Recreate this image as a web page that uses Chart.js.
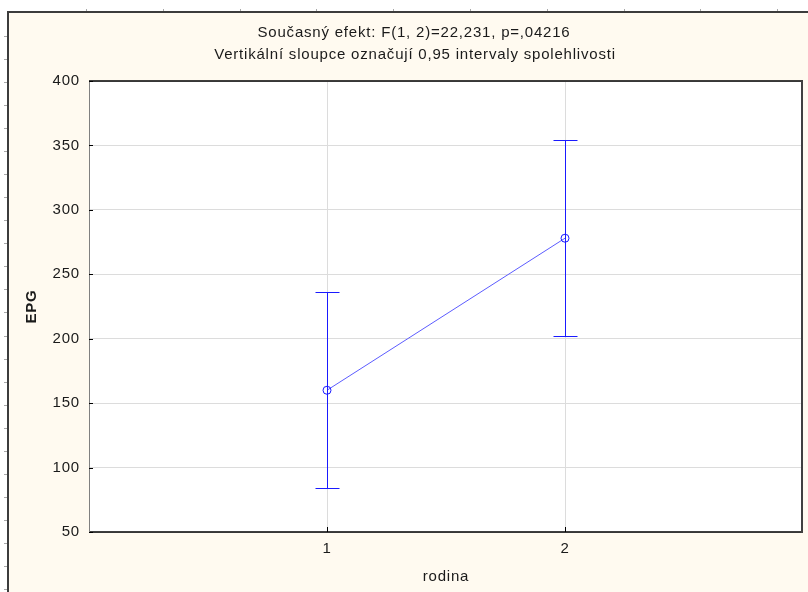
<!DOCTYPE html>
<html>
<head>
<meta charset="utf-8">
<script src="https://cdn.jsdelivr.net/npm/chart.js@4.4.1/dist/chart.umd.min.js"></script>
<style>
  html, body { margin: 0; padding: 0; background: #ffffff; overflow: hidden; }
  #wrap { width: 808px; height: 592px; position: relative; }
  canvas { display: block; }
</style>
</head>
<body>
<div id="wrap"><canvas id="chart" width="808" height="592"></canvas></div>
<script>
// data
const categories = [1, 2];
const means = [160, 278];
const upper = [236, 354];
const lower = [84, 202];
const yTicks = [50, 100, 150, 200, 250, 300, 350, 400];
const titleLines = ['Současný efekt: F(1, 2)=22,231, p=,04216', 'Vertikální sloupce označují 0,95 intervaly spolehlivosti'];
const xTitle = 'rodina';
const yTitle = 'EPG';

const FONT = '"Liberation Sans", Arial, sans-serif';
const CREAM = '#fffaf0';
const SPACING = '0.8px';

// panel, ruler marks, white plot area
const backdrop = {
    id: 'backdrop',
    beforeDraw(chart) {
        const { ctx, chartArea: a, width, height } = chart;
        ctx.save();
        ctx.fillStyle = '#ffffff';
        ctx.fillRect(0, 0, width, height);
        ctx.fillStyle = CREAM;
        ctx.fillRect(8, 12, width - 8, height - 12);
        // ruler ticks
        ctx.strokeStyle = '#a8a8a8';
        ctx.lineWidth = 1;
        ctx.beginPath();
        for (let x = 86; x < width; x += 76.8) {
            ctx.moveTo(Math.round(x) + 0.5, 9);
            ctx.lineTo(Math.round(x) + 0.5, 12);
        }
        for (let y = 36; y < height; y += 23.04) {
            ctx.moveTo(4, Math.round(y) + 0.5);
            ctx.lineTo(7, Math.round(y) + 0.5);
        }
        ctx.stroke();
        ctx.strokeStyle = '#3c3c3c';
        ctx.lineWidth = 2;
        ctx.beginPath();
        ctx.moveTo(8, height);
        ctx.lineTo(8, 12);
        ctx.lineTo(width, 12);
        ctx.stroke();
        ctx.fillStyle = '#ffffff';
        ctx.fillRect(a.left, a.top, a.right - a.left, a.bottom - a.top);
        ctx.restore();
        // wider letters for the tick labels as well
        ctx.letterSpacing = SPACING;
    }
};

// error bars, borders, inner ticks and texts
const overlay = {
    id: 'overlay',
    afterDatasetsDraw(chart) {
        const { ctx, scales: { x, y } } = chart;
        ctx.save();
        ctx.strokeStyle = '#1a1aff';
        ctx.lineWidth = 1;
        categories.forEach((c, i) => {
            const px = Math.round(x.getPixelForValue(c)) + 0.5;
            const pt = Math.round(y.getPixelForValue(upper[i])) + 0.5;
            const pb = Math.round(y.getPixelForValue(lower[i])) + 0.5;
            ctx.beginPath();
            ctx.moveTo(px, pt); ctx.lineTo(px, pb);
            ctx.moveTo(px - 12, pt); ctx.lineTo(px + 12, pt);
            ctx.moveTo(px - 12, pb); ctx.lineTo(px + 12, pb);
            ctx.stroke();
        });
        ctx.restore();
    },
    afterDraw(chart) {
        const { ctx, chartArea: a, scales: { x, y } } = chart;
        ctx.save();
        // border
        ctx.lineWidth = 1.5;
        ctx.strokeStyle = '#000000';
        ctx.beginPath();
        ctx.moveTo(a.left, a.top); ctx.lineTo(a.right, a.top);
        ctx.moveTo(a.left, a.bottom); ctx.lineTo(a.right, a.bottom);
        ctx.stroke();
        ctx.strokeStyle = '#808080';
        ctx.lineWidth = 1;
        ctx.beginPath();
        ctx.moveTo(a.left + 0.5, a.top); ctx.lineTo(a.left + 0.5, a.bottom);
        ctx.stroke();
        ctx.strokeStyle = '#404040';
        ctx.lineWidth = 2;
        ctx.beginPath();
        ctx.moveTo(a.right - 1, a.top); ctx.lineTo(a.right - 1, a.bottom + 1);
        ctx.stroke();
        // inner ticks
        ctx.strokeStyle = '#000000';
        ctx.lineWidth = 1;
        ctx.beginPath();
        yTicks.forEach(v => {
            const py = Math.round(y.getPixelForValue(v)) + 0.5;
            ctx.moveTo(a.left, py); ctx.lineTo(a.left + 4, py);
        });
        categories.forEach(c => {
            const px = Math.round(x.getPixelForValue(c)) + 0.5;
            ctx.moveTo(px, a.bottom); ctx.lineTo(px, a.bottom - 5);
        });
        ctx.stroke();
        // titles
        ctx.letterSpacing = SPACING;
        ctx.fillStyle = '#1a1a1a';
        ctx.textAlign = 'center';
        ctx.textBaseline = 'middle';
        ctx.font = '15px ' + FONT;
        ctx.fillText(titleLines[0], 414, 33);
        ctx.fillText(titleLines[1], 415, 55);
        ctx.fillText(xTitle, (a.left + a.right) / 2, 577);
        ctx.translate(32, (a.top + a.bottom) / 2);
        ctx.rotate(-Math.PI / 2);
        ctx.font = 'bold 15px ' + FONT;
        ctx.fillText(yTitle, 0, 0);
        ctx.restore();
    }
};

new Chart(document.getElementById('chart'), {
    type: 'line',
    data: {
        datasets: [{
            data: categories.map((c, i) => ({ x: c, y: means[i] })),
            borderColor: '#5c5cff',
            borderWidth: 1,
            pointRadius: 4,
            pointHoverRadius: 4,
            pointBorderColor: '#1a1aff',
            pointBackgroundColor: 'rgba(0,0,0,0)',
            pointBorderWidth: 1,
            tension: 0
        }]
    },
    options: {
        responsive: false,
        animation: false,
        devicePixelRatio: 1,
        layout: { padding: { left: 0, top: 81, right: 5, bottom: 0 } },
        plugins: { legend: { display: false }, tooltip: { enabled: false } },
        scales: {
            x: {
                type: 'linear',
                min: 0,
                max: 3,
                afterBuildTicks: s => { s.ticks = categories.map(v => ({ value: v })); },
                afterFit: s => { s.height = 60; },
                border: { display: false },
                grid: { color: '#dcdcdc', drawTicks: false },
                ticks: { color: '#1a1a1a', font: { family: FONT, size: 15 }, padding: 8 }
            },
            y: {
                min: 50,
                max: 400,
                afterBuildTicks: s => { s.ticks = yTicks.map(v => ({ value: v })); },
                afterFit: s => { s.width = 89; },
                border: { display: false },
                grid: { color: '#dcdcdc', drawTicks: false },
                ticks: { color: '#1a1a1a', font: { family: FONT, size: 15 }, padding: 9 }
            }
        }
    },
    plugins: [backdrop, overlay]
});
</script>
</body>
</html>
